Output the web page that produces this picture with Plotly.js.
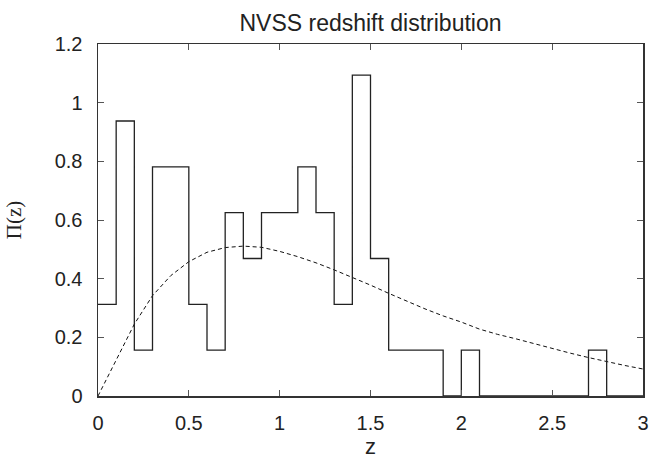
<!DOCTYPE html>
<html>
<head>
<meta charset="utf-8">
<script src="https://cdn.plot.ly/plotly-3.0.1.min.js"></script>
<style>html,body{margin:0;padding:0;background:#fff;}#chart{width:653px;height:463px;}</style>
</head>
<body>
<div id="chart"></div>
<script>
// Histogram bins (width 0.1) : left edges and heights
const binLefts = [0,0.1,0.2,0.3,0.4,0.5,0.6,0.7,0.8,0.9,1.0,1.1,1.2,1.3,1.4,1.5,1.6,1.7,1.8,1.9,2.0,2.1,2.2,2.3,2.4,2.5,2.6,2.7,2.8,2.9];
const binHeights = [0.3125,0.9375,0.15625,0.78125,0.78125,0.3125,0.15625,0.625,0.46875,0.625,0.625,0.78125,0.625,0.3125,1.09375,0.46875,0.15625,0.15625,0.15625,0,0.15625,0,0,0,0,0,0,0.15625,0,0];
const lastEdge = 3.0;

// Model curve (dashed)
const curveZ  = [0,0.1,0.2,0.3,0.4,0.5,0.6,0.7,0.8,0.9,1.0,1.1,1.2,1.3,1.4,1.5,1.6,1.7,1.8,1.9,2.0,2.1,2.2,2.3,2.4,2.5,2.6,2.7,2.8,2.9,3.0];
const curvePi = [0,0.125,0.245,0.342,0.41,0.458,0.49,0.506,0.511,0.507,0.493,0.475,0.454,0.43,0.405,0.378,0.350,0.323,0.297,0.273,0.252,0.228,0.21,0.195,0.178,0.162,0.146,0.131,0.117,0.104,0.092];

const xTicks = [0,0.5,1,1.5,2,2.5,3];
const xTickText = ['0','0.5','1','1.5','2','2.5','3'];
const yTicks = [0,0.2,0.4,0.6,0.8,1,1.2];
const yTickText = ['0','0.2','0.4','0.6','0.8','1','1.2'];

const stepX = binLefts.concat([lastEdge]);
const stepY = binHeights.concat([binHeights[binHeights.length-1]]);

const traces = [
  {x: curveZ, y: curvePi, type:'scatter', mode:'lines',
   line:{color:'#111', width:1, dash:'4px,3px'}, hoverinfo:'skip'},
  {x: stepX, y: stepY, type:'scatter', mode:'lines',
   line:{color:'#222', width:1.3, shape:'hv'}, hoverinfo:'skip'}
];

const axisCommon = {
  showline:true, mirror:'ticks', linecolor:'#333', linewidth:1.5,
  ticks:'inside', ticklen:6, tickwidth:1, tickcolor:'#555',
  showgrid:false, zeroline:false,
  tickfont:{family:'Liberation Sans, Arial, sans-serif', size:20, color:'#222'}
};

const layout = {
  width:653, height:463,
  margin:{l:98, r:10, t:44, b:67},
  paper_bgcolor:'#fff', plot_bgcolor:'#fff',
  showlegend:false,
  title:{text:'NVSS redshift distribution', x:0.5, xref:'paper', xanchor:'center',
         y:1-23/463, yref:'container', yanchor:'middle',
         font:{family:'Liberation Sans, Arial, sans-serif', size:23, color:'#222'}},
  xaxis: Object.assign({}, axisCommon, {
    range:[0,3], tickvals:xTicks, ticktext:xTickText, ticklabelstandoff:8,
    title:{text:'z', standoff:6, font:{family:'Liberation Sans, Arial, sans-serif', size:22, color:'#222'}}
  }),
  yaxis: Object.assign({}, axisCommon, {
    range:[0,1.2], tickvals:yTicks, ticktext:yTickText, ticklabelstandoff:10,
    title:{text:'\u03A0(z)', standoff:27, font:{family:'Liberation Serif, Times New Roman, serif', size:21, color:'#222'}}
  })
};

Plotly.newPlot('chart', traces, layout, {staticPlot:true, displayModeBar:false});
</script>
</body>
</html>
